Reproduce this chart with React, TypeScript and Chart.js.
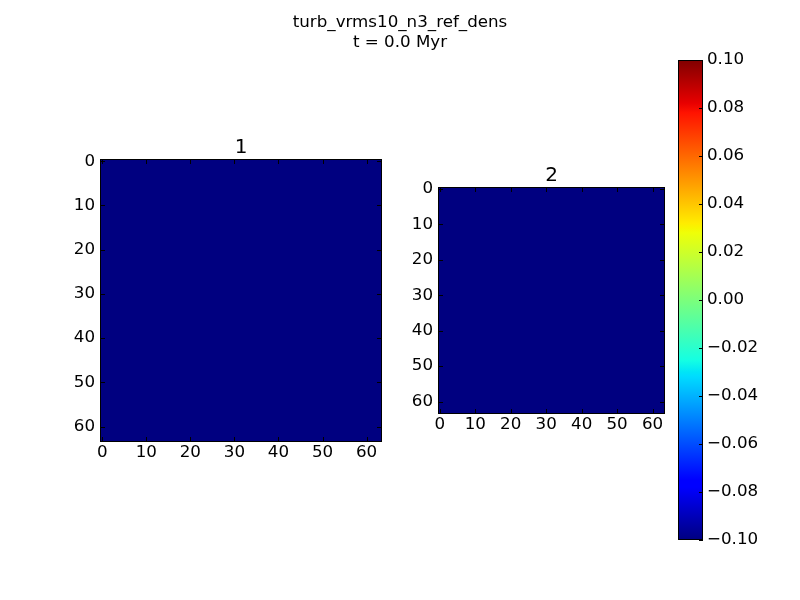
import React, { useEffect, useRef } from "react";
import { Chart, registerables } from "chart.js";

Chart.register(...registerables);

// ---------- data ----------
const suptitleLines = ["turb_vrms10_n3_ref_dens", "t = 0.0 Myr"];
const panelTitles = ["1", "2"];
const gridSize = 64;
// Every cell of both panels shows the same (constant) value.
const panel1Density: number[][] = Array.from({ length: gridSize }, () => Array(gridSize).fill(0));
const panel2Density: number[][] = Array.from({ length: gridSize }, () => Array(gridSize).fill(0));
const axisTicks = [0, 10, 20, 30, 40, 50, 60];
const colorbarTicks = [-0.1, -0.08, -0.06, -0.04, -0.02, 0.0, 0.02, 0.04, 0.06, 0.08, 0.1];
const colorbarMin = -0.1;
const colorbarMax = 0.1;

// ---------- jet colormap ----------
const JET: Record<string, number[][]> = {
  r: [[0, 0], [0.35, 0], [0.66, 1], [0.89, 1], [1, 0.5]],
  g: [[0, 0], [0.125, 0], [0.375, 1], [0.64, 1], [0.91, 0], [1, 0]],
  b: [[0, 0.5], [0.11, 1], [0.34, 1], [0.65, 0], [1, 0]],
};
function channel(pts: number[][], t: number) {
  if (t <= pts[0][0]) return pts[0][1];
  for (let i = 0; i < pts.length - 1; i++) {
    const [x0, y0] = pts[i];
    const [x1, y1] = pts[i + 1];
    if (t <= x1) return y0 + ((t - x0) / (x1 - x0)) * (y1 - y0);
  }
  return pts[pts.length - 1][1];
}
function jet(t: number) {
  const c = (k: string) => Math.round(channel(JET[k], Math.min(1, Math.max(0, t))) * 255);
  return `rgb(${c("r")},${c("g")},${c("b")})`;
}
function normalizer(values: number[][]) {
  const flat = values.flat();
  const lo = Math.min(...flat);
  const hi = Math.max(...flat);
  return (v: number) => (hi > lo ? (v - lo) / (hi - lo) : 0);
}

const FONT = "'DejaVu Sans', Verdana, sans-serif";
const AXIS_BOX = 60; // fixed size of each axis box (labels live inside it)

// ---------- plugins ----------
const framePlugin = {
  id: "frameTicks",
  afterDatasetsDraw(chart: any, _args: any, opts: any) {
    const { ctx, chartArea: a } = chart;
    ctx.save();
    ctx.strokeStyle = "#000";
    ctx.lineWidth = 1;
    const len = opts.tickLength ?? 5;
    ctx.beginPath();
    if (opts.xTicks) {
      const xs = chart.scales.x;
      xs.ticks.forEach((t: any) => {
        const px = Math.round(xs.getPixelForValue(t.value)) + 0.5;
        ctx.moveTo(px, a.bottom);
        ctx.lineTo(px, a.bottom - len);
        ctx.moveTo(px, a.top);
        ctx.lineTo(px, a.top + len);
      });
    }
    if (opts.yTicks) {
      const ys = chart.scales.y;
      ys.ticks.forEach((t: any) => {
        const py = Math.round(ys.getPixelForValue(t.value)) + 0.5;
        if (opts.yBothSides) {
          ctx.moveTo(a.left, py);
          ctx.lineTo(a.left + len, py);
        }
        ctx.moveTo(a.right, py);
        ctx.lineTo(a.right - len, py);
      });
    }
    ctx.stroke();
    ctx.strokeRect(Math.round(a.left) + 0.5, Math.round(a.top) + 0.5, Math.round(a.right - a.left) - 1, Math.round(a.bottom - a.top) - 1);
    ctx.restore();
  },
  afterDraw(chart: any, _args: any, opts: any) {
    const { ctx, chartArea: a } = chart;
    ctx.save();
    ctx.fillStyle = "#000";
    ctx.textAlign = "center";
    ctx.textBaseline = "alphabetic";
    if (opts.title) {
      ctx.font = `20px ${FONT}`;
      ctx.fillText(opts.title, (a.left + a.right) / 2, a.top - 6);
    }
    if (opts.suptitle) {
      ctx.font = `16.7px ${FONT}`;
      opts.suptitle.forEach((line: string, i: number) => {
        ctx.fillText(line, chart.width / 2, 27 + i * 20);
      });
    }
    ctx.restore();
  },
};

// ---------- chart builders ----------
function heatmapConfig(values: number[][], title: string, area: any, suptitle?: string[]) {
  const norm = normalizer(values);
  const datasets = values.map((row, r) => ({
    data: row.map((v, c) => ({ x: c, y: [r - 0.5, r + 0.5] })),
    backgroundColor: row.map((v) => jet(norm(v))),
    borderWidth: 0,
    inflateAmount: 0.6,
    grouped: false,
    barPercentage: 1,
    categoryPercentage: 1,
  }));
  const tickFont = { family: FONT, size: 16.7 };
  return {
    type: "bar",
    data: { datasets },
    plugins: [framePlugin],
    options: {
      animation: false,
      responsive: false,
      devicePixelRatio: 1,
      events: [],
      layout: {
        padding: { left: area.left - AXIS_BOX, top: area.top, right: area.right, bottom: area.bottom - AXIS_BOX },
      },
      plugins: {
        legend: { display: false },
        tooltip: { enabled: false },
        frameTicks: { title, suptitle, xTicks: true, yTicks: true, yBothSides: true, tickLength: 5 },
      },
      scales: {
        x: {
          type: "linear",
          offset: false,
          min: -0.5,
          max: 63.5,
          grid: { display: false, drawTicks: false, offset: false },
          border: { display: false },
          afterBuildTicks: (s: any) => {
            s.ticks = axisTicks.map((v) => ({ value: v }));
          },
          afterFit: (s: any) => {
            s.height = AXIS_BOX;
          },
          ticks: { color: "#000", font: tickFont, padding: 1, maxRotation: 0, autoSkip: false, callback: (v: any) => String(v) },
        },
        y: {
          type: "linear",
          reverse: true,
          min: -0.5,
          max: 63.5,
          grid: { display: false, drawTicks: false },
          border: { display: false },
          afterBuildTicks: (s: any) => {
            s.ticks = axisTicks.map((v) => ({ value: v }));
          },
          afterFit: (s: any) => {
            s.width = AXIS_BOX;
          },
          ticks: { color: "#000", font: tickFont, padding: 5, autoSkip: false, callback: (v: any) => String(v) },
        },
      },
    },
  };
}

function colorbarConfig(area: any) {
  const stops = Array.from(new Set([...JET.r, ...JET.g, ...JET.b].map((p) => p[0]))).sort((a, b) => a - b);
  return {
    type: "bar",
    data: {
      labels: ["colorbar"],
      datasets: [
        {
          data: [[colorbarMin, colorbarMax]],
          backgroundColor: (ctx: any) => {
            const chart = ctx.chart;
            const ys = chart.scales?.y;
            if (!chart.chartArea || !ys) return "#000080";
            const g = chart.ctx.createLinearGradient(0, ys.getPixelForValue(colorbarMin), 0, ys.getPixelForValue(colorbarMax));
            stops.forEach((s) => g.addColorStop(s, jet(s)));
            return g;
          },
          borderWidth: 0,
          barPercentage: 1,
          categoryPercentage: 1,
        },
      ],
    },
    plugins: [framePlugin],
    options: {
      animation: false,
      responsive: false,
      devicePixelRatio: 1,
      events: [],
      layout: {
        padding: { left: area.left, top: area.top, right: area.right - AXIS_BOX, bottom: area.bottom },
      },
      plugins: {
        legend: { display: false },
        tooltip: { enabled: false },
        frameTicks: { xTicks: false, yTicks: true, yBothSides: false, tickLength: 4 },
      },
      scales: {
        x: { type: "category", display: false },
        y: {
          type: "linear",
          position: "right",
          min: colorbarMin,
          max: colorbarMax,
          grid: { display: false, drawTicks: false },
          border: { display: false },
          afterBuildTicks: (s: any) => {
            s.ticks = colorbarTicks.map((v) => ({ value: v }));
          },
          afterFit: (s: any) => {
            s.width = AXIS_BOX;
          },
          ticks: {
            color: "#000",
            font: { family: FONT, size: 16.7 },
            padding: 4,
            autoSkip: false,
            callback: (v: any) => (v < -1e-9 ? "\u2212" : "") + Math.abs(v).toFixed(2),
          },
        },
      },
    },
  };
}

function ChartLayer({ make }: { make: () => any }) {
  const ref = useRef<HTMLCanvasElement | null>(null);
  useEffect(() => {
    if (!ref.current) return;
    const chart = new Chart(ref.current, make());
    return () => chart.destroy();
  }, []);
  return (
    <canvas
      ref={ref}
      width={800}
      height={600}
      style={{ position: "absolute", left: 0, top: 0, width: 800, height: 600 }}
    />
  );
}

export default function App() {
  return (
    <div style={{ position: "absolute", left: 0, top: 0, width: 800, height: 600, background: "#fff", overflow: "hidden" }}>
      <ChartLayer make={() => heatmapConfig(panel1Density, panelTitles[0], { left: 100, top: 159, right: 418, bottom: 158 }, suptitleLines)} />
      <ChartLayer make={() => heatmapConfig(panel2Density, panelTitles[1], { left: 438, top: 187, right: 135, bottom: 186 })} />
      <ChartLayer make={() => colorbarConfig({ left: 678, top: 60, right: 97, bottom: 60 })} />
    </div>
  );
}
